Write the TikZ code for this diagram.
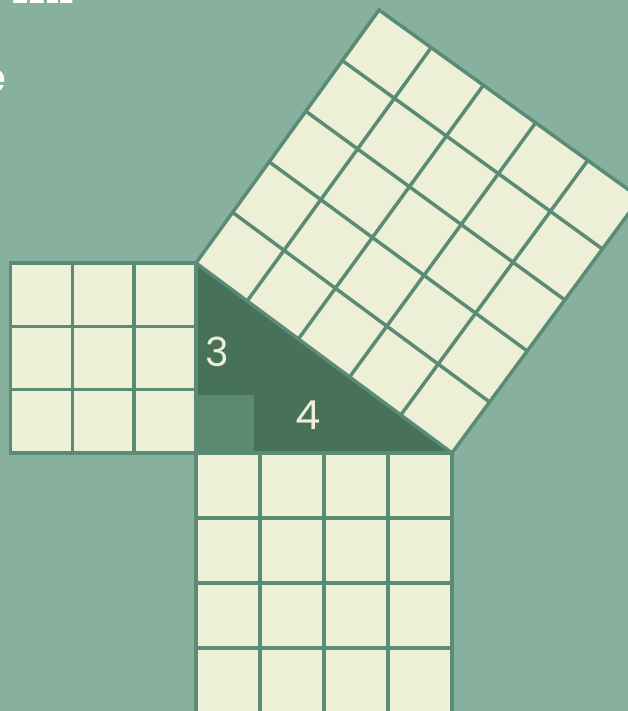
\documentclass[tikz,border=0pt]{standalone}
\usepackage{fontspec}
\newfontfamily\pop{Poppins}
\usetikzlibrary{calc}
\definecolor{bgc}{HTML}{87B09E}
\definecolor{cream}{HTML}{EDEFD6}
\definecolor{gridc}{HTML}{5A8C75}
\definecolor{tric}{HTML}{477158}
\definecolor{markc}{HTML}{5A8A72}
\begin{document}
\begin{tikzpicture}[x=1pt,y=-1pt,
  gridline/.style={draw=gridc,line width=3.5pt},
  lab/.style={text=cream,inner sep=0pt,font=\pop\fontsize{40}{40}\selectfont},
  frag/.style={text=white,inner sep=0pt,anchor=base east}]
\useasboundingbox (0,0) rectangle (628,711);
\clip (0,0) rectangle (628,711);
\fill[fill=bgc] (0,0) rectangle (628,711);
% key points
\coordinate (R) at (196,453);
\coordinate (A) at (196,263);
\coordinate (B) at (452,453);
\coordinate (D) at (379,10);
\coordinate (C) at (640,198);
\coordinate (L1) at (10.5,263);
\coordinate (L2) at (10.5,453);
\coordinate (M1) at (196,713);
\coordinate (M2) at (452,713);
% cut-off text fragments
\node[frag,font=\pop\bfseries\fontsize{28}{28}\selectfont] (title) at (74,3.5) {ZZLE};
\node[frag,font=\pop\fontsize{42}{42}\selectfont] (sub) at (7,93) {e};
% triangle
\fill[fill=tric] (A) -- (R) -- (B) -- cycle;
\fill[fill=markc] (R) rectangle ++(58,-58);
% left square 3x3
\fill[fill=cream] (L1) rectangle (R);
\foreach \i in {1,2} {
  \draw[gridline] ($(L1)!\i/3!(A)$) -- ($(L2)!\i/3!(R)$);
  \draw[gridline] ($(L1)!\i/3!(L2)$) -- ($(A)!\i/3!(R)$);
}
\draw[gridline] (L1) -- (A) -- (R) -- (L2) -- cycle;
% bottom square 4x4
\fill[fill=cream] (R) -- (B) -- (M2) -- (M1) -- cycle;
\foreach \i in {1,2,3} {
  \draw[gridline] ($(R)!\i/4!(B)$) -- ($(M1)!\i/4!(M2)$);
  \draw[gridline] ($(R)!\i/4!(M1)$) -- ($(B)!\i/4!(M2)$);
}
\draw[gridline] (M1) -- (R) -- (B) -- (M2);
% hypotenuse square 5x5
\fill[fill=cream] (A) -- (B) -- (C) -- (D) -- cycle;
\foreach \i in {1,2,3,4} {
  \draw[gridline] ($(A)!\i/5!(B)$) -- ($(D)!\i/5!(C)$);
  \draw[gridline] ($(A)!\i/5!(D)$) -- ($(B)!\i/5!(C)$);
}
\draw[gridline] (A) -- (B) -- (C) -- (D) -- cycle;
% labels
\node[lab] (three) at (217,352) {3};
\node[lab] (four) at (308,415) {4};
\end{tikzpicture}
\end{document}
